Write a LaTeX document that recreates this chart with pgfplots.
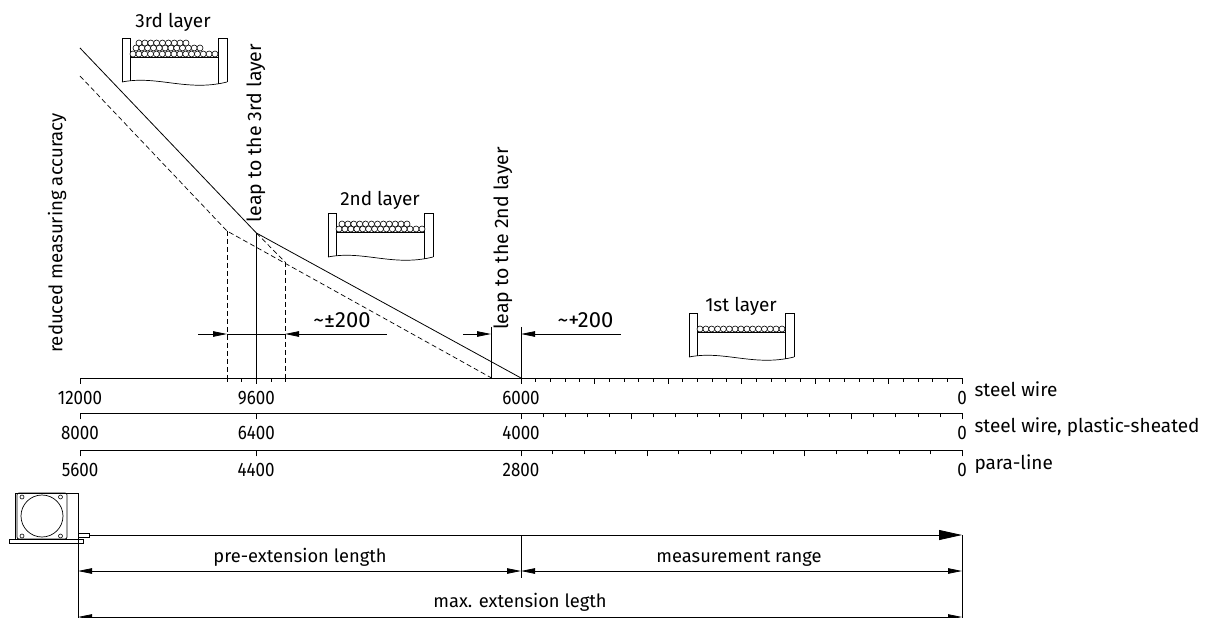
\documentclass[border=0pt]{standalone}
\usepackage{fontspec}
\setmainfont{Fira Sans}
\usepackage{pgfplots}
\pgfplotsset{compat=1.18}
\usetikzlibrary{arrows.meta}
\newcommand{\lab}{\fontsize{19}{21}\selectfont}
\newcommand{\dimlab}{\fontsize{18.3}{20}\selectfont}
\newcommand{\leaplab}{\fontsize{19.5}{21}\selectfont}
\newcommand{\num}{\fontsize{19.5}{21}\selectfont}

% one axis per scale, all of them share the same pixel grid (1px = 1pt)
\pgfplotsset{
	scalebar/.style={
		scale only axis,
		width=882pt,
		x dir=reverse,
		xmin=0,
		ymin=0,
		axis x line=bottom,
		axis y line=none,
		axis line style={-,black,line width=0.8pt},
		tick style={black,line width=0.7pt},
		xtick align=outside,
		major tick length=6pt,
		minor tick length=4pt,
		scaled x ticks=false,
		xticklabel style={font=\num,xscale=0.87,yshift=-3.5pt},
		extra x tick style={major tick length=6pt},
		extra x tick labels={},
		clip=false,
	},
	dimline/.style={black,line width=0.8pt},
	bigarrow/.style={-{Triangle[length=23pt,width=10pt]}},
	arrowhead/.style={-{Triangle[length=14pt,width=5.5pt]}},
	arrowback/.style={{Triangle[length=14pt,width=5.5pt]}-},
	bothheads/.style={{Triangle[length=14pt,width=5.5pt]}-{Triangle[length=14pt,width=5.5pt]}},
	wire/.style={only marks,mark=*,mark size=3pt,mark options={fill=white,draw=black,line width=0.6pt}},
}

% flanges and floor of a drum: left edge, top edge
\newcommand{\drum}[2]{
	\draw[line width=0.7pt] (#1,#2+44) -- (#1,#2) -- (#1+8,#2) -- (#1+8,#2+43);
	\draw[line width=0.7pt] (#1+96,#2+46) -- (#1+96,#2) -- (#1+105,#2) -- (#1+105,#2+44);
	\draw[line width=0.8pt] (#1+8,#2+19) -- (#1+96,#2+19);
	\draw[line width=0.7pt] (#1,#2+44) .. controls (#1+35,#2+37) and (#1+65,#2+54) .. (#1+105,#2+44);
}

\begin{document}
\begin{tikzpicture}
\useasboundingbox (0pt,0pt) rectangle (1212pt,618pt);
% pixel grid for the drawings and the text
\begin{axis}[
	at={(0pt,0pt)},
	anchor=south west,
	scale only axis,
	width=1212pt,
	height=618pt,
	xmin=0,
	xmax=1212,
	ymin=0,
	ymax=618,
	y dir=reverse,
	axis lines=none,
	clip=false,
]
\drum{122}{38}
\drum{328}{213}
\drum{689}{313}
\addplot[wire] coordinates {
	(133,54) (138.9,54) (144.7,54) (150.6,54) (156.4,54) (162.3,54) (168.1,54) (174,54)
	(179.9,54) (185.7,54) (191.6,54) (197.4,54) (203.3,54) (209.1,54) (215,54)
	(136,48) (141.8,48) (147.6,48) (153.5,48) (159.3,48) (165.1,48) (170.9,48) (176.7,48)
	(182.5,48) (188.4,48) (194.2,48) (200,48)
	(139,43) (144.9,43) (150.8,43) (156.6,43) (162.5,43) (168.4,43) (174.3,43) (180.1,43) (186,43)
};
\addplot[wire] coordinates {
	(339,229) (344.9,229) (350.9,229) (356.8,229) (362.7,229) (368.6,229) (374.6,229) (380.5,229)
	(386.4,229) (392.4,229) (398.3,229) (404.2,229) (410.1,229) (416.1,229) (422,229)
	(342,224) (347.9,224) (353.8,224) (359.7,224) (365.6,224) (371.5,224) (377.5,224) (383.4,224)
	(389.3,224) (395.2,224) (401.1,224) (407,224)
};
\addplot[wire] coordinates {
	(700,329) (705.9,329) (711.7,329) (717.6,329) (723.4,329) (729.3,329) (735.1,329) (741,329)
	(746.9,329) (752.7,329) (758.6,329) (764.4,329) (770.3,329) (776.1,329) (782,329)
};

% leap arrows
\addplot[dimline,arrowhead] coordinates {(198,334) (227,334)};
\addplot[dimline,arrowback] coordinates {(285,334) (387,334)};
\addplot[dimline] coordinates {(227,334) (285,334)};
\addplot[dimline,arrowhead] coordinates {(463,334) (491,334)};
\addplot[dimline,arrowback] coordinates {(521,334) (621,334)};

% dimension lines under the scales
\addplot[dimline,bigarrow] coordinates {(89,535) (962,535)};
\addplot[dimline,bothheads] coordinates {(78,571) (521,571)};
\addplot[dimline,bothheads] coordinates {(521,571) (962,571)};
\addplot[dimline,bothheads] coordinates {(78,617) (962,617)};
\addplot[dimline] coordinates {(78,493) (78,618)};
\addplot[dimline] coordinates {(521,535) (521,578)};
\addplot[dimline] coordinates {(962,535) (962,618)};

% encoder
\draw[line width=0.7pt] (15,539) -- (15,493) -- (78,493);
\draw[line width=0.7pt,rounded corners=2pt] (17,493) rectangle (67,539);
\draw[line width=0.7pt] (42,516) circle[radius=21pt];
\draw[line width=0.6pt] (22,497) circle[radius=2pt] (60.5,497) circle[radius=2pt]
	(22,536) circle[radius=2pt] (60.5,536) circle[radius=2pt];
\draw[line width=0.7pt] (9,539.5) rectangle (83,543);
\draw[line width=0.7pt] (78,533) rectangle (89,537);

\node[font=\lab] at (173,22) {3rd layer};
\node[font=\lab] at (380,200) {2nd layer};
\node[font=\lab] at (741,306) {1st layer};
\node[font=\fontsize{18.6}{20}\selectfont,rotate=90] at (57,233) {reduced measuring accuracy};
\node[font=\leaplab,rotate=90] at (256,133) {leap to the 3rd layer};
\node[font=\leaplab,rotate=90] at (503,238.5) {leap to the 2nd layer};
\node[font=\fontsize{22}{24}\selectfont] at (342,320) {{\char"7E}±200};
\node[font=\fontsize{22}{24}\selectfont] at (585.5,320) {{\char"7E}+200};
\node[font=\lab,anchor=west] at (971,389) {steel wire};
\node[font=\lab,anchor=west] at (971,427) {steel wire, plastic-sheated};
\node[font=\lab,anchor=west] at (971,464) {para-line};
\node[font=\dimlab] at (300,557) {pre-extension length};
\node[font=\dimlab] at (739,558) {measurement range};
\node[font=\dimlab] at (520,602) {max. extension legth};
\end{axis}

% steel wire scale with the curves: x is the wire length, y the height above the scale
\begin{axis}[
	scalebar,
	at={(80pt,240pt)},
	anchor=south west,
	height=330pt,
	xmax=12000,
	ymax=330,
	axis y line=right,
	ytick=\empty,
	y axis line style={-},
	xtick={12000,9600,6000,0},
	xticklabels={12000,9600,6000,0},
	minor xtick={10000,9800,9400,9200,200,400,...,5800},
	extra x ticks={1000,2000,3000,4000,5000},
]
\addplot[black,line width=0.8pt] coordinates {(12000,330) (9600,145) (6000,0)};
\addplot[black,line width=0.7pt,dash pattern=on 5pt off 3pt] coordinates {(12000,302) (10000,147) (6400,0)};
\addplot[black,line width=0.7pt,dash pattern=on 5pt off 3pt] coordinates {(9600,145) (9210,116)};
\addplot[black,line width=0.7pt,dash pattern=on 5pt off 3pt] coordinates {(10000,147) (10000,0)};
\addplot[black,line width=0.7pt,dash pattern=on 5pt off 3pt] coordinates {(9210,116) (9210,0)};
\addplot[black,line width=0.8pt] coordinates {(9600,145) (9600,0)};
\addplot[black,line width=0.8pt] coordinates {(6400,51) (6400,0)};
\addplot[black,line width=0.8pt] coordinates {(6000,51) (6000,0)};
\end{axis}

% steel wire, plastic-sheated
\begin{axis}[
	scalebar,
	at={(80pt,204.5pt)},
	anchor=south west,
	height=10pt,
	xmax=8000,
	ymax=1,
	xtick={8000,6400,4000,0},
	xticklabels={8000,6400,4000,0},
	minor xtick={200,400,...,3800},
	extra x ticks={1000,2000,3000},
]
\end{axis}

% para-line, the 4400 sits where the drawing puts it
\begin{axis}[
	scalebar,
	at={(80pt,167.5pt)},
	anchor=south west,
	height=10pt,
	xmax=5600,
	ymax=1,
	xtick={5600,4482,2800,0},
	xticklabels={5600,4400,2800,0},
	minor xtick={200,400,...,2600},
	extra x ticks={1000,2000},
]
\end{axis}
\end{tikzpicture}
\end{document}
